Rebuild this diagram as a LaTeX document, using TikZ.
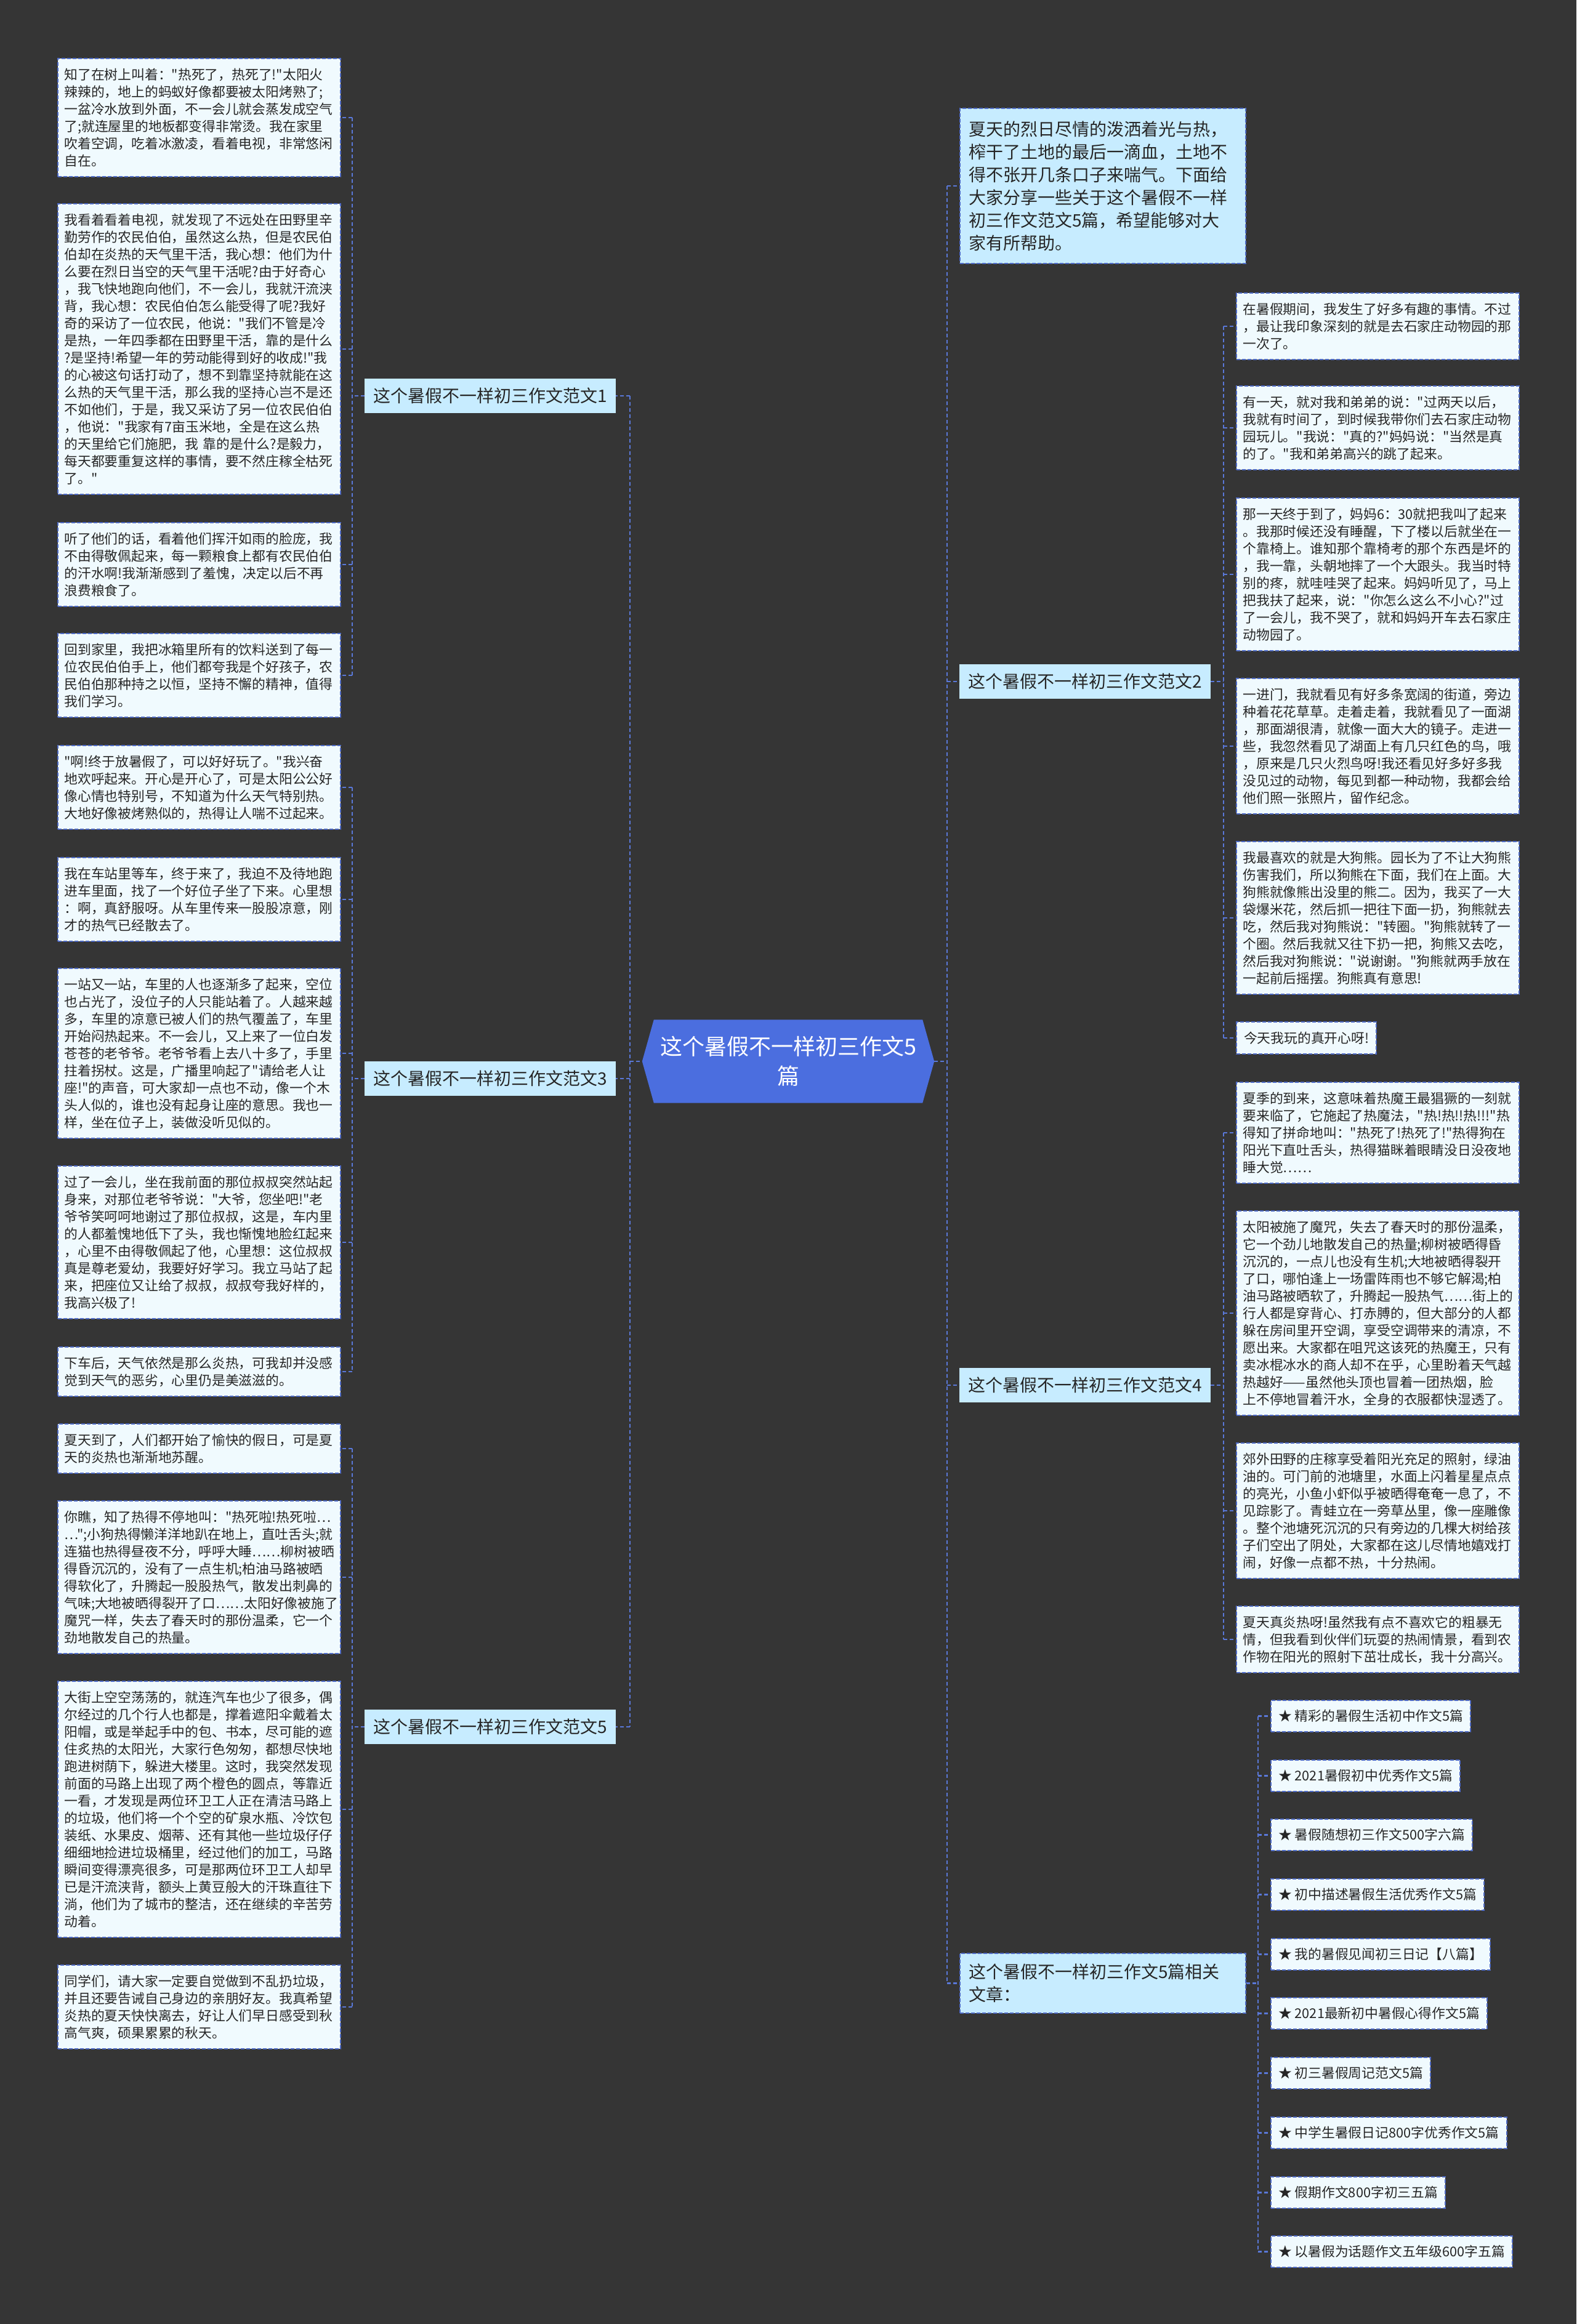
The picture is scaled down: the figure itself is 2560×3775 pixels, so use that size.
\documentclass[tikz,border=0pt]{standalone}
\usepackage{fontspec}
\newfontfamily\cjk{Noto Sans CJK SC}
\pgfdeclarelayer{pagebg}
\pgfdeclarelayer{shapebg}
\pgfsetlayers{pagebg,shapebg,main}
\definecolor{bgc}{HTML}{353535}
\definecolor{leaffill}{HTML}{F0FAFE}
\definecolor{leafline}{HTML}{4F6BC6}
\definecolor{lonefill}{HTML}{C7ECFF}
\definecolor{rootfill}{HTML}{4B6EDF}
\definecolor{connc}{HTML}{5A78D8}
\definecolor{textc}{HTML}{262626}
\begin{document}
\begin{tikzpicture}[x=1pt,y=-1pt,
  conn/.style={draw=connc, line width=2.5pt, dash pattern=on 6pt off 4pt},
  leafbox/.style={draw=leafline, line width=2pt, dash pattern=on 6pt off 3pt, fill=leaffill, text=textc,
    font=\cjk\fontsize{21.8}{28}\selectfont, text width=438pt, align=left, inner xsep=10.5pt, inner ysep=1pt,
    anchor=north west, minimum height={#1*28pt+24pt}},
  relitem/.style={draw=leafline, line width=2pt, dash pattern=on 6pt off 3pt, fill=leaffill, text=textc,
    font=\cjk\fontsize{21.8}{28}\selectfont, inner xsep=12pt, inner ysep=1pt,
    anchor=north west, minimum height=51pt},
  lvlone/.style={fill=lonefill, text=textc, font=\cjk\fontsize{28}{37}\selectfont,
    minimum height=56pt, inner xsep=14pt, inner ysep=0pt, anchor=west},
  bigbox/.style={draw=leafline, line width=2pt, dash pattern=on 6pt off 3pt, fill=lonefill, text=textc,
    font=\cjk\fontsize{28}{37}\selectfont, text width=436pt, align=left, inner xsep=14pt, inner ysep=1pt, anchor=north west},
  rootnode/.style={text=white, font=\cjk\fontsize{36}{48}\selectfont, align=center,
    minimum width=436pt, minimum height=135pt, inner sep=0pt}
]
\begin{pgfonlayer}{pagebg}
\fill[bgc] (0,0) rectangle (2560,3775);
\end{pgfonlayer}
\useasboundingbox (0,0) rectangle (2560,3775);

% root
\node[rootnode] (root) at (1280,1724) {这个暑假不一样初三作文5\\篇};
\begin{pgfonlayer}{shapebg}
\fill[rootfill] (root.north west) -- (root.north east) -- ([xshift=19pt]root.east)
  -- (root.south east) -- (root.south west) -- ([xshift=-19pt]root.west) -- cycle;
\end{pgfonlayer}

% level one
\node[lvlone] (b1) at (592,643) {这个暑假不一样初三作文范文1};
\node[lvlone] (b3) at (592,1752) {这个暑假不一样初三作文范文3};
\node[lvlone] (b5) at (592,2805) {这个暑假不一样初三作文范文5};
\node[lvlone] (b2) at (1558,1107) {这个暑假不一样初三作文范文2};
\node[lvlone] (b4) at (1558,2250) {这个暑假不一样初三作文范文4};
\node[bigbox, minimum height=252pt] (intro) at (1558,175) {夏天的烈日尽情的泼洒着光与热，\\榨干了土地的最后一滴血，土地不\\得不张开几条口子来喘气。下面给\\大家分享一些关于这个暑假不一样\\初三作文范文5篇，希望能够对大\\家有所帮助。};
\node[bigbox, minimum height=97pt] (rel) at (1558,3172) {这个暑假不一样初三作文5篇相关\\文章：};

% left leaves, branch 1
\node[leafbox=6] (L1) at (93,94) {知了在树上叫着："热死了，热死了!"太阳火\\辣辣的，地上的蚂蚁好像都要被太阳烤熟了;\\一盆冷水放到外面，不一会儿就会蒸发成空气\\了;就连屋里的地板都变得非常烫。我在家里\\吹着空调，吃着冰激凌，看着电视，非常悠闲\\自在。};
\node[leafbox=16] (L2) at (93,330) {我看着看着电视，就发现了不远处在田野里辛\\勤劳作的农民伯伯，虽然这么热，但是农民伯\\伯却在炎热的天气里干活，我心想：他们为什\\么要在烈日当空的天气里干活呢?由于好奇心\\，我飞快地跑向他们，不一会儿，我就汗流浃\\背，我心想：农民伯伯怎么能受得了呢?我好\\奇的采访了一位农民，他说："我们不管是冷\\是热，一年四季都在田野里干活，靠的是什么\\?是坚持!希望一年的劳动能得到好的收成!"我\\的心被这句话打动了，想不到靠坚持就能在这\\么热的天气里干活，那么我的坚持心岂不是还\\不如他们，于是，我又采访了另一位农民伯伯\\，他说："我家有7亩玉米地，全是在这么热\\的天里给它们施肥，我 靠的是什么?是毅力，\\每天都要重复这样的事情，要不然庄稼全枯死\\了。"};
\node[leafbox=4] (L3) at (93,848) {听了他们的话，看着他们挥汗如雨的脸庞，我\\不由得敬佩起来，每一颗粮食上都有农民伯伯\\的汗水啊!我渐渐感到了羞愧，决定以后不再\\浪费粮食了。};
\node[leafbox=4] (L4) at (93,1028) {回到家里，我把冰箱里所有的饮料送到了每一\\位农民伯伯手上，他们都夸我是个好孩子，农\\民伯伯那种持之以恒，坚持不懈的精神，值得\\我们学习。};
% branch 3
\node[leafbox=4] (L5) at (93,1210) {"啊!终于放暑假了，可以好好玩了。"我兴奋\\地欢呼起来。开心是开心了，可是太阳公公好\\像心情也特别号，不知道为什么天气特别热。\\大地好像被烤熟似的，热得让人喘不过起来。};
\node[leafbox=4] (L6) at (93,1392) {我在车站里等车，终于来了，我迫不及待地跑\\进车里面，找了一个好位子坐了下来。心里想\\：啊，真舒服呀。从车里传来一股股凉意，刚\\才的热气已经散去了。};
\node[leafbox=9] (L7) at (93,1572) {一站又一站，车里的人也逐渐多了起来，空位\\也占光了，没位子的人只能站着了。人越来越\\多，车里的凉意已被人们的热气覆盖了，车里\\开始闷热起来。不一会儿，又上来了一位白发\\苍苍的老爷爷。老爷爷看上去八十多了，手里\\拄着拐杖。这是，广播里响起了"请给老人让\\座!"的声音，可大家却一点也不动，像一个木\\头人似的，谁也没有起身让座的意思。我也一\\样，坐在位子上，装做没听见似的。};
\node[leafbox=8] (L8) at (93,1893) {过了一会儿，坐在我前面的那位叔叔突然站起\\身来，对那位老爷爷说："大爷，您坐吧!"老\\爷爷笑呵呵地谢过了那位叔叔，这是，车内里\\的人都羞愧地低下了头，我也惭愧地脸红起来\\，心里不由得敬佩起了他，心里想：这位叔叔\\真是尊老爱幼，我要好好学习。我立马站了起\\来，把座位又让给了叔叔，叔叔夸我好样的，\\我高兴极了!};
\node[leafbox=2] (L9) at (93,2187) {下车后，天气依然是那么炎热，可我却并没感\\觉到天气的恶劣，心里仍是美滋滋的。};
% branch 5
\node[leafbox=2] (L10) at (93,2312) {夏天到了，人们都开始了愉快的假日，可是夏\\天的炎热也渐渐地苏醒。};
\node[leafbox=8] (L11) at (93,2437) {你瞧，知了热得不停地叫："热死啦!热死啦…\\…";小狗热得懒洋洋地趴在地上，直吐舌头;就\\连猫也热得昼夜不分，呼呼大睡……柳树被晒\\得昏沉沉的，没有了一点生机;柏油马路被晒\\得软化了，升腾起一股股热气，散发出刺鼻的\\气味;大地被晒得裂开了口……太阳好像被施了\\魔咒一样，失去了春天时的那份温柔，它一个\\劲地散发自己的热量。};
\node[leafbox=14] (L12) at (93,2730) {大街上空空荡荡的，就连汽车也少了很多，偶\\尔经过的几个行人也都是，撑着遮阳伞戴着太\\阳帽，或是举起手中的包、书本，尽可能的遮\\住炙热的太阳光，大家行色匆匆，都想尽快地\\跑进树荫下，躲进大楼里。这时，我突然发现\\前面的马路上出现了两个橙色的圆点，等靠近\\一看，才发现是两位环卫工人正在清洁马路上\\的垃圾，他们将一个个空的矿泉水瓶、冷饮包\\装纸、水果皮、烟蒂、还有其他一些垃圾仔仔\\细细地捡进垃圾桶里，经过他们的加工，马路\\瞬间变得漂亮很多，可是那两位环卫工人却早\\已是汗流浃背，额头上黄豆般大的汗珠直往下\\淌，他们为了城市的整洁，还在继续的辛苦劳\\动着。};
\node[leafbox=4] (L13) at (93,3191) {同学们，请大家一定要自觉做到不乱扔垃圾，\\并且还要告诫自己身边的亲朋好友。我真希望\\炎热的夏天快快离去，好让人们早日感受到秋\\高气爽，硕果累累的秋天。};

% right leaves, branch 2
\node[leafbox=3] (R1) at (2007,475) {在暑假期间，我发生了好多有趣的事情。不过\\，最让我印象深刻的就是去石家庄动物园的那\\一次了。};
\node[leafbox=4] (R2) at (2007,626) {有一天，就对我和弟弟的说："过两天以后，\\我就有时间了，到时候我带你们去石家庄动物\\园玩儿。"我说："真的?"妈妈说："当然是真\\的了。"我和弟弟高兴的跳了起来。};
\node[leafbox=8] (R3) at (2007,808) {那一天终于到了，妈妈6：30就把我叫了起来\\。我那时候还没有睡醒，下了楼以后就坐在一\\个靠椅上。谁知那个靠椅考的那个东西是坏的\\，我一靠，头朝地摔了一个大跟头。我当时特\\别的疼，就哇哇哭了起来。妈妈听见了，马上\\把我扶了起来，说："你怎么这么不小心?"过\\了一会儿，我不哭了，就和妈妈开车去石家庄\\动物园了。};
\node[leafbox=7] (R4) at (2007,1101) {一进门，我就看见有好多条宽阔的街道，旁边\\种着花花草草。走着走着，我就看见了一面湖\\，那面湖很清，就像一面大大的镜子。走进一\\些，我忽然看见了湖面上有几只红色的鸟，哦\\，原来是几只火烈鸟呀!我还看见好多好多我\\没见过的动物，每见到都一种动物，我都会给\\他们照一张照片，留作纪念。};
\node[leafbox=8] (R5) at (2007,1366) {我最喜欢的就是大狗熊。园长为了不让大狗熊\\伤害我们，所以狗熊在下面，我们在上面。大\\狗熊就像熊出没里的熊二。因为，我买了一大\\袋爆米花，然后抓一把往下面一扔，狗熊就去\\吃，然后我对狗熊说："转圈。"狗熊就转了一\\个圈。然后我就又往下扔一把，狗熊又去吃，\\然后我对狗熊说："说谢谢。"狗熊就两手放在\\一起前后摇摆。狗熊真有意思!};
\node[relitem, minimum height=52pt] (R6) at (2007,1659) {今天我玩的真开心呀!};
% branch 4
\node[leafbox=5] (R7) at (2007,1757) {夏季的到来，这意味着热魔王最猖獗的一刻就\\要来临了，它施起了热魔法，"热!热!!热!!!"热\\得知了拼命地叫："热死了!热死了!"热得狗在\\阳光下直吐舌头，热得猫眯着眼睛没日没夜地\\睡大觉……};
\node[leafbox=11] (R8) at (2007,1966) {太阳被施了魔咒，失去了春天时的那份温柔，\\它一个劲儿地散发自己的热量;柳树被晒得昏\\沉沉的，一点儿也没有生机;大地被晒得裂开\\了口，哪怕逢上一场雷阵雨也不够它解渴;柏\\油马路被晒软了，升腾起一股热气……街上的\\行人都是穿背心、打赤膊的，但大部分的人都\\躲在房间里开空调，享受空调带来的清凉，不\\愿出来。大家都在咀咒这该死的热魔王，只有\\卖冰棍冰水的商人却不在乎，心里盼着天气越\\热越好——虽然他头顶也冒着一团热烟，脸\\上不停地冒着汗水，全身的衣服都快湿透了。};
\node[leafbox=7] (R9) at (2007,2343) {郊外田野的庄稼享受着阳光充足的照射，绿油\\油的。可门前的池塘里，水面上闪着星星点点\\的亮光，小鱼小虾似乎被晒得奄奄一息了，不\\见踪影了。青蛙立在一旁草丛里，像一座雕像\\。整个池塘死沉沉的只有旁边的几棵大树给孩\\子们空出了阴处，大家都在这儿尽情地嬉戏打\\闹，好像一点都不热，十分热闹。};
\node[leafbox=3] (R10) at (2007,2608) {夏天真炎热呀!虽然我有点不喜欢它的粗暴无\\情，但我看到伙伴们玩耍的热闹情景，看到农\\作物在阳光的照射下茁壮成长，我十分高兴。};

% related list
\node[relitem] (T1) at (2063,2761) {★ 精彩的暑假生活初中作文5篇};
\node[relitem] (T2) at (2063,2858) {★ 2021暑假初中优秀作文5篇};
\node[relitem] (T3) at (2063,2954) {★ 暑假随想初三作文500字六篇};
\node[relitem] (T4) at (2063,3051) {★ 初中描述暑假生活优秀作文5篇};
\node[relitem] (T5) at (2063,3148) {★ 我的暑假见闻初三日记【八篇】};
\node[relitem] (T6) at (2063,3244) {★ 2021最新初中暑假心得作文5篇};
\node[relitem] (T7) at (2063,3341) {★ 初三暑假周记范文5篇};
\node[relitem] (T8) at (2063,3438) {★ 中学生暑假日记800字优秀作文5篇};
\node[relitem] (T9) at (2063,3535) {★ 假期作文800字初三五篇};
\node[relitem] (T10) at (2063,3631) {★ 以暑假为话题作文五年级600字五篇};

% connectors: root to level one
\coordinate (cl) at (1023,1724);
\coordinate (cr) at (1538,1724);
\draw[conn] (cl |- b1.east) -- (cl |- b5.east);
\draw[conn] (cl) -- ([xshift=-19pt]root.west);
\foreach \n in {b1,b3,b5} \draw[conn] (cl |- \n.east) -- (\n.east);
\draw[conn] (cr |- intro.west) -- (cr |- rel.west);
\draw[conn] ([xshift=19pt]root.east) -- (cr);
\foreach \n in {intro,b2,b4,rel} \draw[conn] (cr |- \n.west) -- (\n.west);

% branch 1
\coordinate (g1) at (572,643);
\draw[conn] (g1 |- L1.east) -- (g1 |- L4.east);
\draw[conn] (b1.west) -- (g1);
\foreach \n in {L1,L2,L3,L4} \draw[conn] (g1 |- \n.east) -- (\n.east);
% branch 3
\coordinate (g3) at (572,1752);
\draw[conn] (g3 |- L5.east) -- (g3 |- L9.east);
\draw[conn] (b3.west) -- (g3);
\foreach \n in {L5,L6,L7,L8,L9} \draw[conn] (g3 |- \n.east) -- (\n.east);
% branch 5
\coordinate (g5) at (572,2805);
\draw[conn] (g5 |- L10.east) -- (g5 |- L13.east);
\draw[conn] (b5.west) -- (g5);
\foreach \n in {L10,L11,L12,L13} \draw[conn] (g5 |- \n.east) -- (\n.east);
% branch 2
\coordinate (g2) at (1987,1107);
\draw[conn] (g2 |- R1.west) -- (g2 |- R6.west);
\draw[conn] (b2.east) -- (g2);
\foreach \n in {R1,R2,R3,R4,R5,R6} \draw[conn] (g2 |- \n.west) -- (\n.west);
% branch 4
\coordinate (g4) at (1987,2250);
\draw[conn] (g4 |- R7.west) -- (g4 |- R10.west);
\draw[conn] (b4.east) -- (g4);
\foreach \n in {R7,R8,R9,R10} \draw[conn] (g4 |- \n.west) -- (\n.west);
% related
\coordinate (g6) at (2043,3221);
\draw[conn] (g6 |- T1.west) -- (g6 |- T10.west);
\draw[conn] (rel.east) -- (g6 |- rel.east);
\foreach \n in {T1,T2,T3,T4,T5,T6,T7,T8,T9,T10} \draw[conn] (g6 |- \n.west) -- (\n.west);
\end{tikzpicture}
\end{document}
